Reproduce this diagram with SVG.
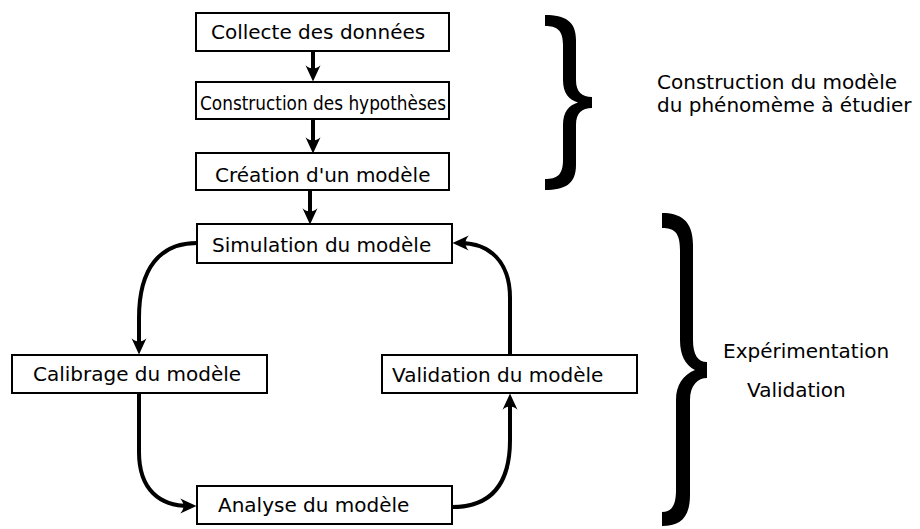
<svg xmlns="http://www.w3.org/2000/svg" width="920" height="529" viewBox="0 0 920 529">
<style>
.box{fill:#fff;stroke:#000;stroke-width:2}
.t{font-family:"DejaVu Sans",sans-serif;font-size:20px;fill:#000}
.c{fill:none;stroke:#000;stroke-width:4;marker-end:url(#ah)}
.brace{fill:#000}
</style>
<defs>
<marker id="ah" markerUnits="userSpaceOnUse" markerWidth="20" markerHeight="20" viewBox="-14 -7 16 14" refX="-6" refY="0" orient="auto" overflow="visible">
<path d="M0,0 L-13,-6 C-9.5,-2 -9.5,2 -13,6 Z" fill="#000"/>
</marker>
</defs>
<rect width="920" height="529" fill="#fff"/>
<g id="connectors">
<path class="c" d="M313,51 L313,74"/>
<path class="c" d="M313,119 L313,146"/>
<path class="c" d="M310,190 L310,217"/>
<path class="c" d="M197,243 C160,243 139,268 139,318 L139,347"/>
<path class="c" d="M139,393 L139,452 C139,490 160,506 189,506"/>
<path class="c" d="M452,507 C490,507 510,485 510,440 L510,401"/>
<path class="c" d="M510,355 L510,298 C510,262 490,243 460,243"/>
</g>
<g id="n-collecte"><rect class="box" x="196" y="13" width="253" height="38"/><text class="t" x="211" y="39">Collecte des données</text></g>
<g id="n-hypotheses"><rect class="box" x="196" y="82" width="253" height="37"/><text class="t" x="200" y="110" textLength="246" lengthAdjust="spacingAndGlyphs">Construction des hypothèses</text></g>
<g id="n-creation"><rect class="box" x="196" y="153" width="253" height="37"/><text class="t" x="215" y="182">Création d'un modèle</text></g>
<g id="n-simulation"><rect class="box" x="197" y="224" width="255" height="39"/><text class="t" x="212" y="252">Simulation du modèle</text></g>
<g id="n-calibrage"><rect class="box" x="12" y="355" width="255" height="38"/><text class="t" x="33" y="381">Calibrage du modèle</text></g>
<g id="n-validation"><rect class="box" x="382" y="355" width="255" height="38"/><text class="t" x="392" y="382">Validation du modèle</text></g>
<g id="n-analyse"><rect class="box" x="197" y="486" width="255" height="38"/><text class="t" x="218" y="512">Analyse du modèle</text></g>
<g id="brace-top">
<path class="brace" d="M545,15 C565,15 576,21 576,40 L576,80 C576,92 582,97 592,97 L592,108 C582,108 576,113 576,125 L576,165 C576,184 565,190 545,190 L545,179 C557,179 563,175 563,160 L563,125 C563,112 569,105 578,102.5 C569,100 563,93 563,80 L563,45 C563,30 557,26 545,26 Z"/>
<text class="t" x="657" y="89">Construction du modèle</text>
<text class="t" x="657" y="112">du phénomème à étudier</text>
</g>
<g id="brace-bottom">
<path class="brace" d="M662,213 C680,213 693,220 693,245 L693,340 C693,355 698,362 707,362 L707,378 C698,378 690,385 690,400 L690,495 C690,518 680,526 662,526 L662,512 C672,512 676,505 676,490 L676,400 C676,385 683,375 695,370 C685,365 680,355 680,340 L680,250 C680,232 674,228 662,228 Z"/>
<text class="t" x="723" y="358">Expérimentation</text>
<text class="t" x="747" y="397">Validation</text>
</g>
</svg>
